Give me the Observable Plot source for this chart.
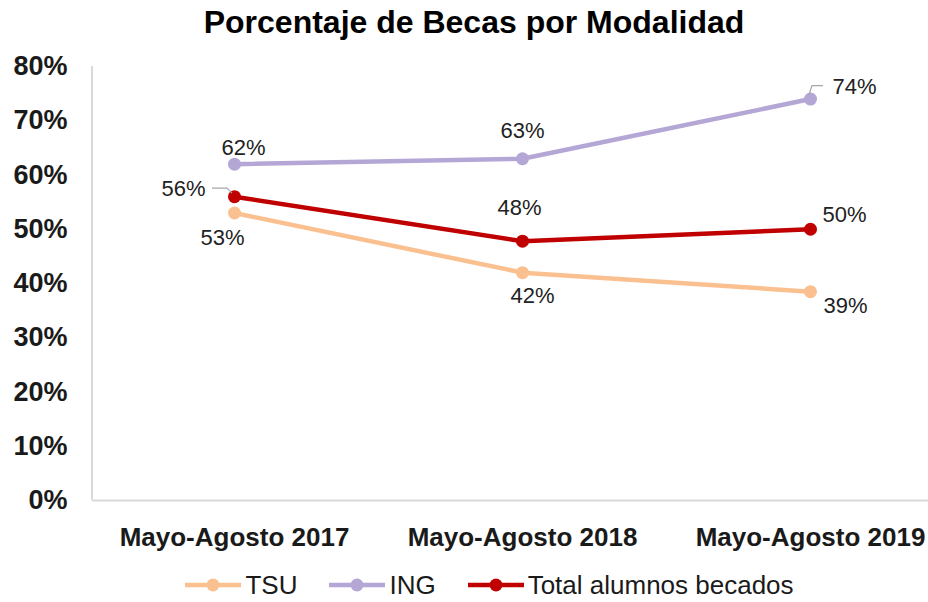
<!DOCTYPE html>
<html>
<head>
<meta charset="utf-8">
<script src="https://cdn.jsdelivr.net/npm/d3@7"></script>
<script src="https://cdn.jsdelivr.net/npm/@observablehq/plot@0.6"></script>
<style>
  html, body { margin: 0; padding: 0; background: #fff; }
  #wrap { position: relative; width: 928px; height: 602px; overflow: hidden; background: #fff; }
  #title { position: absolute; left: 0; top: 0; width: 948px; height: 44px; line-height: 44px; text-align: center;
           font-family: "Liberation Sans", Arial, sans-serif; font-weight: bold; font-size: 32px; color: #000; }
  #chart { position: absolute; left: 0; top: 44px; }
  #legend { position: absolute; left: 0; top: 566px; width: 979px; height: 38px; display: flex; justify-content: center;
            align-items: center; font-family: "Liberation Sans", Arial, sans-serif; font-size: 26px; color: #1a1a1a; }
  .item { display: flex; align-items: center; margin: 0 16px; }
  .item svg { margin-right: 4px; }
</style>
</head>
<body>
<div id="wrap">
  <div id="title">Porcentaje de Becas por Modalidad</div>
  <div id="chart"></div>
  <div id="legend"></div>
</div>
<script>
// ---- data ----
const categories = ["Mayo-Agosto 2017", "Mayo-Agosto 2018", "Mayo-Agosto 2019"];
const seriesNames = ["TSU", "ING", "Total alumnos becados"];
const tsuValues = [53, 42, 38.5];
const ingValues = [62, 63, 74];
const totalValues = [56, 47.8, 50];
const tsuLabels = ["53%", "42%", "39%"];
const ingLabels = ["62%", "63%", "74%"];
const totalLabels = ["56%", "48%", "50%"];
const yTicks = [0, 10, 20, 30, 40, 50, 60, 70, 80];

// ---- style ----
const colors = ["#FAC090", "#B4A7D6", "#C00000"];
// label offsets [dx, dy, anchor] per series per category
const labelOffsets = {
  "TSU": [[-12, 25, "middle"], [10, 23, "middle"], [35, 14, "middle"]],
  "ING": [[9, -16, "middle"], [0, -28, "middle"], [22, -12, "start"]],
  "Total alumnos becados": [[-29, -8, "end"], [-3, -33, "middle"], [34, -14, "middle"]]
};

const valuesBySeries = [tsuValues, ingValues, totalValues];
const labelsBySeries = [tsuLabels, ingLabels, totalLabels];
const rows = seriesNames.flatMap((s, i) =>
  categories.map((c, j) => ({series: s, cat: c, value: valuesBySeries[i][j], label: labelsBySeries[i][j], j}))
);

const labelMarks = rows.map(r => {
  const [dx, dy, anchor] = labelOffsets[r.series][r.j];
  return Plot.text([r], {x: "cat", y: "value", text: "label", dx, dy, textAnchor: anchor, lineAnchor: "middle",
    fontSize: 22, fill: "#222", fontFamily: "'Liberation Sans', Arial, sans-serif"});
});

const chart = Plot.plot({
  width: 928,
  height: 518,
  marginTop: 22,
  marginBottom: 62,
  marginLeft: 92,
  marginRight: 0,
  style: {fontFamily: "'Liberation Sans', Arial, sans-serif", background: "white", color: "#1a1a1a", overflow: "visible"},
  x: {type: "point", domain: categories, range: [234, 810], padding: 0, label: null},
  y: {domain: [0, 80], label: null},
  color: {domain: seriesNames, range: colors},
  marks: [
    Plot.ruleY([0], {stroke: "#d9d9d9", strokeWidth: 2}),
    Plot.axisY({ticks: yTicks, tickSize: 0, tickPadding: 25, tickFormat: d => d + "%", fontSize: 27, fontWeight: "bold", label: null}),
    Plot.axisX({tickSize: 0, tickPadding: 27, fontSize: 26, fontWeight: "bold", label: null}),
    Plot.line(rows, {x: "cat", y: "value", z: "series", stroke: "series", strokeWidth: 4.5}),
    Plot.dot(rows, {x: "cat", y: "value", fill: "series", r: 6.5}),
    ...labelMarks
  ]
});
document.getElementById("chart").appendChild(chart);

// y axis line & leader lines using the plot's scales
const ys = chart.scale("y");
const xs = chart.scale("x");
const svg = d3.select(chart);
svg.insert("line", ":first-child")
  .attr("x1", 92).attr("x2", 92)
  .attr("y1", ys.apply(80)).attr("y2", ys.apply(0))
  .attr("stroke", "#d9d9d9").attr("stroke-width", 2);

const x17 = xs.apply(categories[0]), y56 = ys.apply(totalValues[0]);
svg.append("polyline")
  .attr("points", `${x17 - 22},${y56 - 8} ${x17 - 7},${y56 - 8} ${x17 - 2},${y56 - 3}`)
  .attr("fill", "none").attr("stroke", "#a6a6a6").attr("stroke-width", 1.2);
const x19 = xs.apply(categories[2]), y74 = ys.apply(ingValues[2]);
svg.append("polyline")
  .attr("points", `${x19 - 1},${y74 - 4} ${x19 + 2},${y74 - 13} ${x19 + 13},${y74 - 13}`)
  .attr("fill", "none").attr("stroke", "#a6a6a6").attr("stroke-width", 1.2);

// legend
const legend = d3.select("#legend");
seriesNames.forEach((s, i) => {
  const item = legend.append("div").attr("class", "item");
  const sw = item.append("svg").attr("width", 56).attr("height", 20);
  sw.append("line").attr("x1", 0).attr("x2", 56).attr("y1", 10).attr("y2", 10)
    .attr("stroke", colors[i]).attr("stroke-width", 4.5);
  sw.append("circle").attr("cx", 28).attr("cy", 10).attr("r", 6.5).attr("fill", colors[i]);
  item.append("span").text(s);
});
</script>
</body>
</html>
